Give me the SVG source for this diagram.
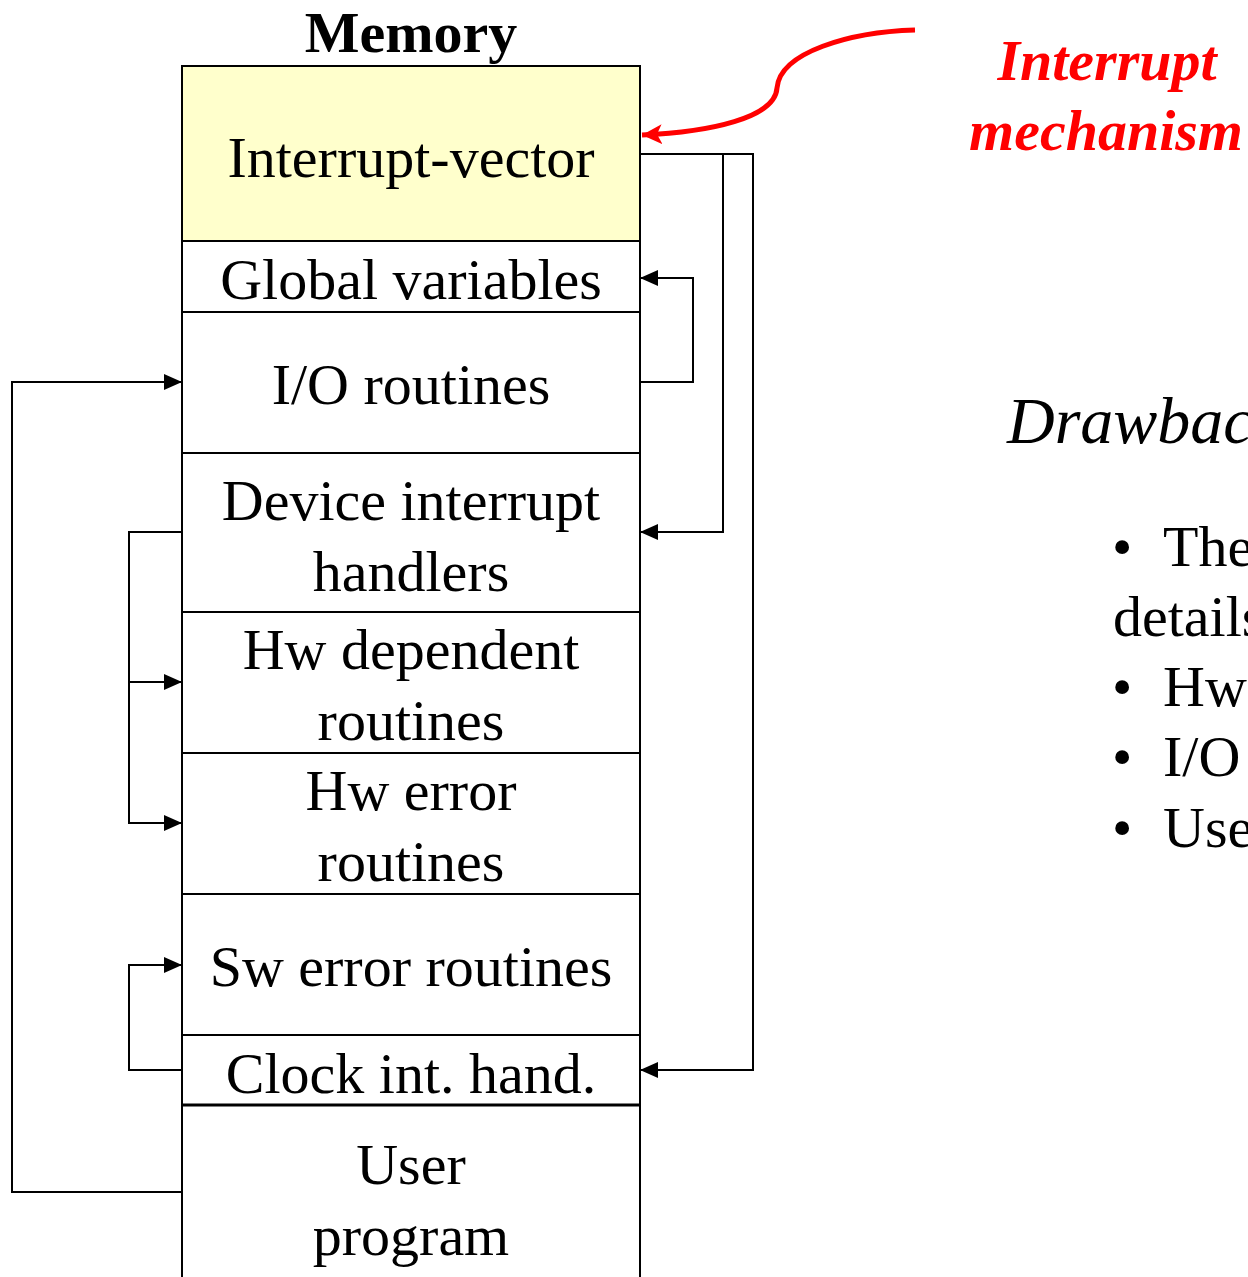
<svg xmlns="http://www.w3.org/2000/svg" width="1248" height="1277" viewBox="0 0 1248 1277">
  <defs>
    <marker id="arr" markerWidth="18" markerHeight="16" refX="17" refY="8" orient="auto" markerUnits="userSpaceOnUse">
      <path d="M0,0 L18,8 L0,16 Z" fill="#000"/>
    </marker>
    <marker id="arrRed" markerWidth="22" markerHeight="20" refX="20" refY="10" orient="auto" markerUnits="userSpaceOnUse">
      <path d="M0,0 L20,10 L0,20 L5,10 Z" fill="#ff0000"/>
    </marker>
  </defs>
  <style>
    .t { font-family: "Liberation Serif", "Times New Roman", serif; font-size: 58px; fill: #000; text-anchor: middle; }
    .cell { fill: #fff; stroke: #000; stroke-width: 2; }
    .conn { fill: none; stroke: #000; stroke-width: 2; }
  </style>
  <rect width="1248" height="1277" fill="#fff"/>

  <text id="title" class="t" x="411" y="52" font-weight="bold">Memory</text>

  <!-- memory map cells -->
  <g id="interrupt-vector">
    <rect x="182" y="66" width="458" height="175" fill="#ffffcc" stroke="#000" stroke-width="2"/>
    <text class="t" x="411" y="177">Interrupt-vector</text>
  </g>
  <g id="global-variables">
    <rect class="cell" x="182" y="241" width="458" height="71"/>
    <text class="t" x="411" y="299">Global variables</text>
  </g>
  <g id="io-routines">
    <rect class="cell" x="182" y="312" width="458" height="141"/>
    <text class="t" x="411" y="404">I/O routines</text>
  </g>
  <g id="device-handlers">
    <rect class="cell" x="182" y="453" width="458" height="159"/>
    <text class="t" x="411" y="520">Device interrupt</text>
    <text class="t" x="411" y="591">handlers</text>
  </g>
  <g id="hw-dependent">
    <rect class="cell" x="182" y="612" width="458" height="141"/>
    <text class="t" x="411" y="669">Hw dependent</text>
    <text class="t" x="411" y="740">routines</text>
  </g>
  <g id="hw-error">
    <rect class="cell" x="182" y="753" width="458" height="141"/>
    <text class="t" x="411" y="810">Hw error</text>
    <text class="t" x="411" y="881">routines</text>
  </g>
  <g id="sw-error">
    <rect class="cell" x="182" y="894" width="458" height="141"/>
    <text class="t" x="411" y="986">Sw error routines</text>
  </g>
  <g id="clock-handler">
    <rect class="cell" x="182" y="1035" width="458" height="70"/>
    <text class="t" x="411" y="1093">Clock int. hand.</text>
  </g>
  <g id="user-program">
    <path d="M182,1105 L182,1277 M640,1105 L640,1277" class="conn"/>
    <line x1="182" y1="1105" x2="640" y2="1105" stroke="#000" stroke-width="3"/>
    <text class="t" x="411" y="1184">User</text>
    <text class="t" x="411" y="1255">program</text>
  </g>

  <!-- control-flow connectors -->
  <g id="connectors">
    <path class="conn" d="M640,154 L723,154 L723,532 L641,532" marker-end="url(#arr)"/>
    <path class="conn" d="M723,154 L753,154 L753,1070 L641,1070" marker-end="url(#arr)"/>
    <path class="conn" d="M640,382 L693,382 L693,278 L641,278" marker-end="url(#arr)"/>
    <path class="conn" d="M182,1192 L12,1192 L12,382 L181,382" marker-end="url(#arr)"/>
    <path class="conn" d="M182,532 L129,532 L129,682 L181,682" marker-end="url(#arr)"/>
    <path class="conn" d="M129,682 L129,823 L181,823" marker-end="url(#arr)"/>
    <path class="conn" d="M182,1070 L129,1070 L129,965 L181,965" marker-end="url(#arr)"/>
    <path d="M915,30 C850,32 780,52 777,88 C775,118 710,132 642,135" fill="none" stroke="#ff0000" stroke-width="5" marker-end="url(#arrRed)"/>
  </g>

  <g id="interrupt-label" font-family="Liberation Serif, Times New Roman, serif" font-size="58" font-weight="bold" font-style="italic" fill="#ff0000" text-anchor="middle">
    <text x="1107" y="80">Interrupt</text>
    <text x="1106" y="150">mechanism</text>
  </g>

  <g id="drawbacks">
    <text x="1007" y="443" font-family="Liberation Serif, Times New Roman, serif" font-size="66" font-style="italic" fill="#000">Drawbac</text>
    <g font-family="Liberation Serif, Times New Roman, serif" font-size="58" fill="#000">
      <text x="1112" y="566">•</text>
      <text x="1163" y="566">The</text>
      <text x="1113" y="636">details</text>
      <text x="1112" y="706">•</text>
      <text x="1163" y="706">Hw</text>
      <text x="1112" y="776">•</text>
      <text x="1163" y="776">I/O</text>
      <text x="1112" y="847">•</text>
      <text x="1163" y="847">Use</text>
    </g>
  </g>
</svg>
